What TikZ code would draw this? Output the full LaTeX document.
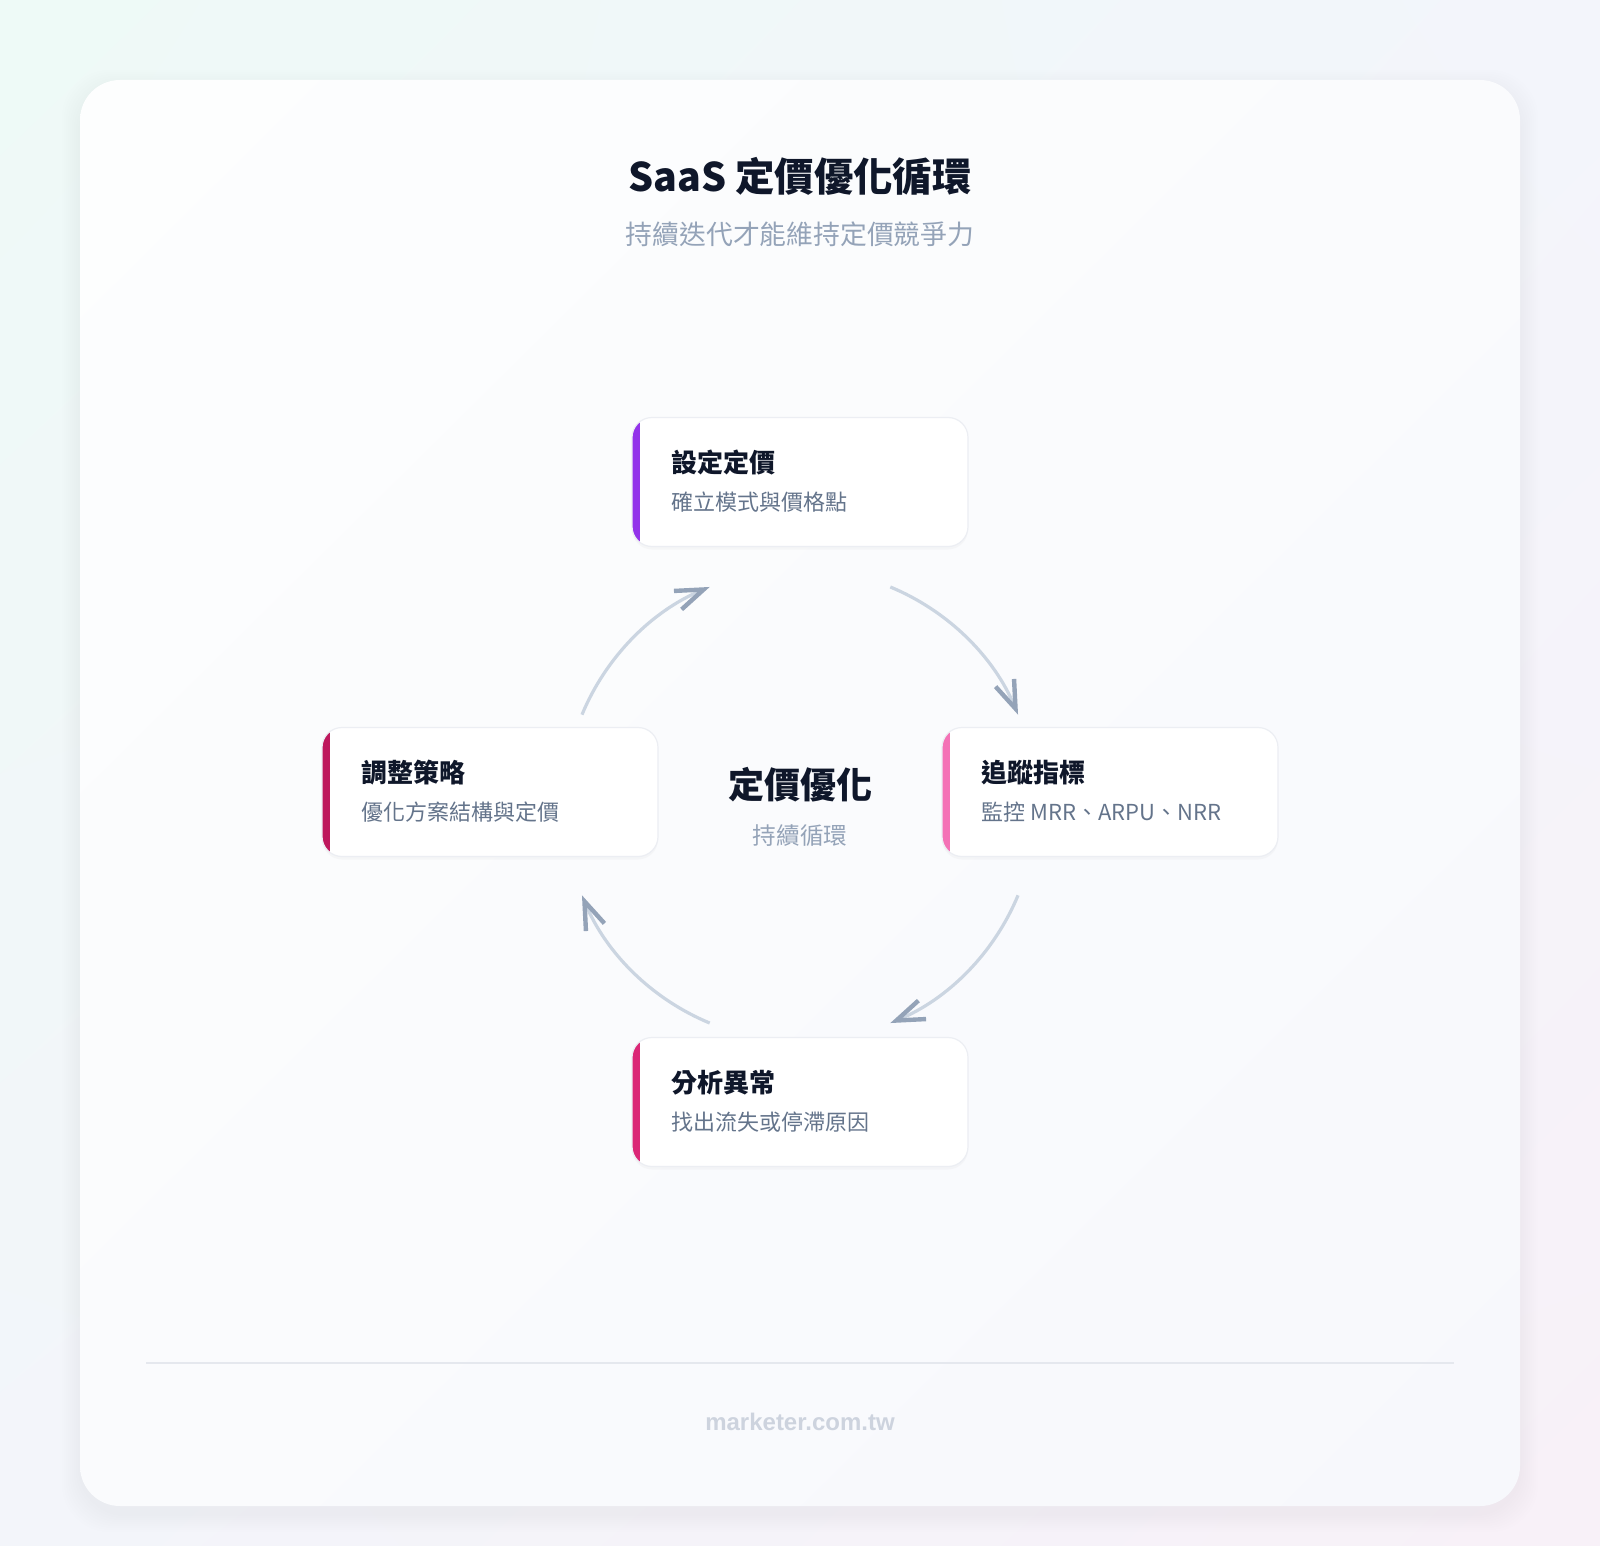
\documentclass[tikz,border=0pt]{standalone}
\usepackage{fontspec}
\setmainfont{Noto Sans CJK TC}
\newfontfamily\webfont{Liberation Sans}
\usetikzlibrary{arrows.meta}
\usetikzlibrary{positioning}
\usetikzlibrary{shadows}
\usetikzlibrary{shadings}

\definecolor{inkcol}{HTML}{0F172A}
\definecolor{mutedcol}{HTML}{94A3B8}
\definecolor{notecol}{HTML}{64748B}
\definecolor{arcline}{HTML}{CBD5E1}
\definecolor{tipcol}{HTML}{94A3B8}
\definecolor{boxline}{HTML}{ECEEF3}
\definecolor{sepcol}{HTML}{E5E8EE}
\definecolor{footcol}{HTML}{CDD3DE}
\definecolor{setbar}{HTML}{9333EA}
\definecolor{trackbar}{HTML}{F472B6}
\definecolor{probebar}{HTML}{DB2777}
\definecolor{tunebar}{HTML}{BE185D}
\definecolor{bgtl}{HTML}{EEFAF7}
\definecolor{bgtr}{HTML}{F3F5FB}
\definecolor{bgbl}{HTML}{F3F5FA}
\definecolor{bgbr}{HTML}{F8F1F8}
\definecolor{cardtl}{HTML}{FDFEFE}
\definecolor{cardtr}{HTML}{FAFBFD}
\definecolor{cardbl}{HTML}{FAFBFD}
\definecolor{cardbr}{HTML}{F7F8FC}
\definecolor{shadowcol}{HTML}{8B93B8}

\begin{document}
\begin{tikzpicture}[x=0.5pt,y=0.5pt,node distance=155pt,
  stepbox/.style={draw=boxline,line width=0.6pt,fill=white,rounded corners=10pt,
    minimum width=168pt,minimum height=64.5pt,inner sep=0pt,
    drop shadow={opacity=0.045,shadow xshift=0pt,shadow yshift=-1.5pt},
    path picture={\fill[#1,sharp corners]
      ([yshift=-2pt]path picture bounding box.south west)
      rectangle ([xshift=4.2pt,yshift=2pt]path picture bounding box.north west);}},
  steptitle/.style={anchor=west,inner sep=0pt,text=inkcol,
    font=\fontsize{13pt}{15pt}\selectfont\bfseries},
  stepnote/.style={anchor=west,inner sep=0pt,text=notecol,
    font=\fontsize{11pt}{13pt}\selectfont},
  cycle arrow/.style={draw=arcline,line width=1.6pt,
    -{Straight Barb[length=14pt,width=10pt,line width=2.2pt,color=tipcol]},
    bend left=22.5,looseness=0.886}]
  \useasboundingbox (0,0) rectangle (1600,-1546);

  % backdrop and card
  \shade[upper left=bgtl,upper right=bgtr,lower left=bgbl,lower right=bgbr]
    (0,0) rectangle (1600,-1546);
  \foreach \g in {2,4,...,18}
    \fill[shadowcol,opacity=0.008,rounded corners=24pt]
      (80-\g,-80+\g-8) rectangle (1520+\g,-1506-\g-8);
  \shade[rounded corners=20pt,upper left=cardtl,upper right=cardtr,
    lower left=cardbl,lower right=cardbr] (80,-80) rectangle (1520,-1506);

  % heading
  \node[text=inkcol,font=\fontsize{19.7pt}{24pt}\selectfont\bfseries]
    (title) at (800,-176.5) {SaaS 定價優化循環};
  \node[text=mutedcol,font=\fontsize{13.4pt}{16pt}\selectfont]
    (subtitle) at (800,-234.5) {持續迭代才能維持定價競爭力};

  % the four steps
  \coordinate (hub) at (800,-792);
  \node[stepbox=setbar] (set) [above of=hub] {};
  \node[stepbox=trackbar] (track) [right of=hub] {};
  \node[stepbox=probebar] (probe) [below of=hub] {};
  \node[stepbox=tunebar] (tune) [left of=hub] {};

  \node[steptitle] (set-t) at ([xshift=20pt,yshift=9.75pt]set.west) {設定定價};
  \node[stepnote] (set-n) at ([xshift=20pt,yshift=-10.25pt]set.west) {確立模式與價格點};
  \node[steptitle] (track-t) at ([xshift=20pt,yshift=9.75pt]track.west) {追蹤指標};
  \node[stepnote] (track-n) at ([xshift=20pt,yshift=-10.25pt]track.west) {監控 MRR、ARPU、NRR};
  \node[steptitle] (probe-t) at ([xshift=20pt,yshift=9.75pt]probe.west) {分析異常};
  \node[stepnote] (probe-n) at ([xshift=20pt,yshift=-10.25pt]probe.west) {找出流失或停滯原因};
  \node[steptitle] (tune-t) at ([xshift=20pt,yshift=9.75pt]tune.west) {調整策略};
  \node[stepnote] (tune-n) at ([xshift=20pt,yshift=-10.25pt]tune.west) {優化方案結構與定價};

  % centre label
  \node[text=inkcol,font=\fontsize{18pt}{22pt}\selectfont\bfseries]
    (hub-t) at (800,-785) {定價優化};
  \node[text=mutedcol,font=\fontsize{11.8pt}{14pt}\selectfont]
    (hub-n) at (800,-836) {持續循環};

  % ring of arrows
  \coordinate (ring) at (800,-805);
  \coordinate (r1) at ([shift={(157.5:236)}]ring);
  \coordinate (r2) at ([shift={(112.5:236)}]ring);
  \coordinate (r3) at ([shift={(67.5:236)}]ring);
  \coordinate (r4) at ([shift={(22.5:236)}]ring);
  \coordinate (r5) at ([shift={(-22.5:236)}]ring);
  \coordinate (r6) at ([shift={(-67.5:236)}]ring);
  \coordinate (r7) at ([shift={(-112.5:236)}]ring);
  \coordinate (r8) at ([shift={(-157.5:236)}]ring);

  \path
    (r1) edge[cycle arrow] (r2)
    (r3) edge[cycle arrow] (r4)
    (r5) edge[cycle arrow] (r6)
    (r7) edge[cycle arrow] (r8);

  % footer
  \coordinate (sep-l) at (146,-1363);
  \coordinate (sep-r) at (1454,-1363);
  \draw[sepcol,line width=0.8pt] (sep-l) -- (sep-r);
  \node[text=footcol,font=\webfont\bfseries\fontsize{12pt}{14pt}\selectfont]
    (site) at (800,-1421.5) {marketer.com.tw};
\end{tikzpicture}
\end{document}
